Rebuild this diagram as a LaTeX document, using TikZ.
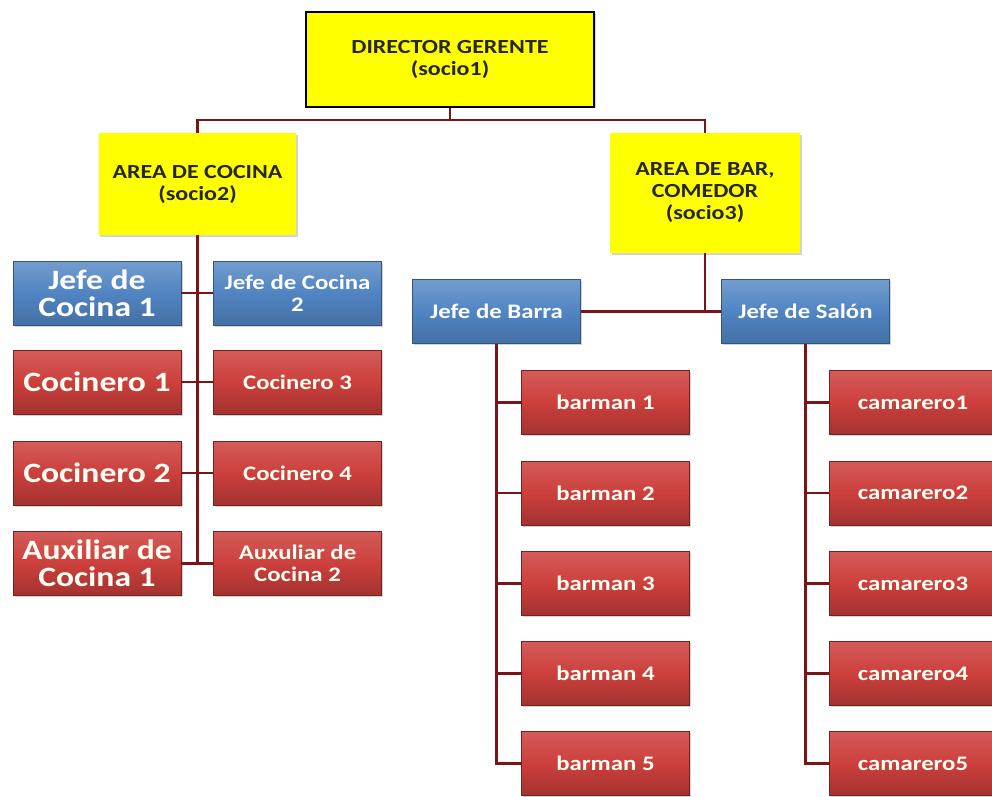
\documentclass[tikz,border=0pt]{standalone}
\usepackage{fontspec}
\setmainfont{Carlito}[FakeStretch=1.2]
\usepackage{tikz}
\usetikzlibrary{shadows}
\definecolor{granate}{HTML}{7A1416}
\definecolor{amarillo}{HTML}{FFFF00}
\definecolor{azul}{HTML}{5084C2}
\definecolor{rojo}{HTML}{CC3F3C}

\begin{document}
\begin{tikzpicture}[x=0.75pt,y=-0.75pt,
  every node/.style={rectangle,align=center,inner sep=1pt},
  sombra/.style={drop shadow={opacity=0.35,shadow xshift=1.2pt,shadow yshift=-1.2pt}},
  area/.style={fill=amarillo,text=black!85,sombra,font=\bfseries\fontsize{15}{16.5}\selectfont},
  jefe/.style={draw=azul!65!black,top color=azul!80!white,bottom color=azul!85!black,middle color=azul,
    text=white,sombra,minimum width=126pt,minimum height=48pt},
  puesto/.style={draw=rojo!55!black,top color=rojo!85!white,bottom color=rojo!80!black,middle color=rojo,
    text=white!95!yellow,sombra,minimum width=126pt,minimum height=48pt},
  grande/.style={font=\bfseries\fontsize{21}{20}\selectfont},
  chico/.style={font=\bfseries\fontsize{15.5}{16.5}\selectfont},
  link/.style={line width=2.2pt,color=granate}]
\useasboundingbox (0,0) rectangle (992,796);

% direccion y areas
\node (dir) [area,draw=black,line width=1.4pt,minimum width=216pt,minimum height=71pt] at (450,59.5) {DIRECTOR GERENTE\\(socio1)};
\node (cocina) [area,minimum width=148pt,minimum height=76.5pt] at (197.5,184) {AREA DE COCINA\\(socio2)};
\node (bar) [area,minimum width=142.5pt,minimum height=90pt] at (705,193) {AREA DE BAR,\\COMEDOR\\(socio3)};

% cocina
\node (jc1) [jefe,grande] at (97,293) {Jefe de\\Cocina 1};
\node (jc2) [jefe,chico] at (297.5,293) {Jefe de Cocina\\2};
\node (coc1) [puesto,grande] at (97,382) {Cocinero 1};
\node (coc3) [puesto,chico] at (297.5,382) {Cocinero 3};
\node (coc2) [puesto,grande] at (97,473) {Cocinero 2};
\node (coc4) [puesto,chico] at (297.5,473) {Cocinero 4};
\node (aux1) [puesto,grande] at (97,563.5) {Auxiliar de\\Cocina 1};
\node (aux2) [puesto,chico] at (297.5,563.5) {Auxuliar de\\Cocina 2};

% bar y comedor
\node (jbarra) [jefe,chico] at (496.5,311.5) {Jefe de Barra};
\node (jsalon) [jefe,chico] at (805.5,311.5) {Jefe de Salón};
\node (bm1) [puesto,chico] at (605.5,402.5) {barman 1};
\node (bm2) [puesto,chico] at (605.5,493) {barman 2};
\node (bm3) [puesto,chico] at (605.5,583.5) {barman 3};
\node (bm4) [puesto,chico] at (605.5,673.5) {barman 4};
\node (bm5) [puesto,chico] at (605.5,763.5) {barman 5};
\node (cam1) [puesto,chico] at (913,402.5) {camarero1};
\node (cam2) [puesto,chico] at (913,493) {camarero2};
\node (cam3) [puesto,chico] at (913,583.5) {camarero3};
\node (cam4) [puesto,chico] at (913,673.5) {camarero4};
\node (cam5) [puesto,chico] at (913,763.5) {camarero5};

% lineas
\coordinate (reparto) at (450,120);
\draw[link] (dir.south) -- (reparto);
\draw[link] (reparto) -| (cocina.north); \draw[link] (reparto) -| (bar.north);
\draw[link] (cocina.south) -- (cocina.south |- aux1.east);
\draw[link] (jc1.east) -- (jc2.west); \draw[link] (coc1.east) -- (coc3.west);
\draw[link] (coc2.east) -- (coc4.west); \draw[link] (aux1.east) -- (aux2.west);
\draw[link] (bar.south) |- (jbarra.east); \draw[link] (bar.south) |- (jsalon.west);
\draw[link] (jbarra.south) |- (bm1.west); \draw[link] (jbarra.south) |- (bm2.west);
\draw[link] (jbarra.south) |- (bm3.west); \draw[link] (jbarra.south) |- (bm4.west);
\draw[link] (jbarra.south) |- (bm5.west);
\draw[link] (jsalon.south) |- (cam1.west); \draw[link] (jsalon.south) |- (cam2.west);
\draw[link] (jsalon.south) |- (cam3.west); \draw[link] (jsalon.south) |- (cam4.west);
\draw[link] (jsalon.south) |- (cam5.west);
\end{tikzpicture}
\end{document}
